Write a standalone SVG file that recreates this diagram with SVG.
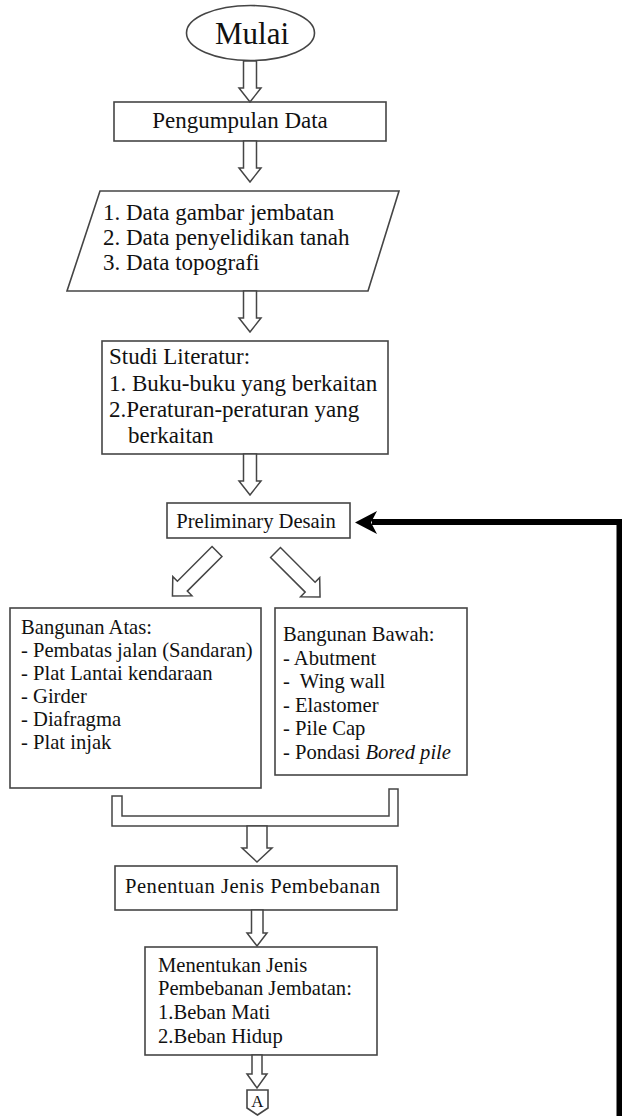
<svg xmlns="http://www.w3.org/2000/svg" width="622" height="1116" viewBox="0 0 622 1116">
<style>
.box{fill:#fff;stroke:#454545;stroke-width:1.6}
.arr{fill:#fff;stroke:#454545;stroke-width:1.5;stroke-linejoin:miter}
text{font-family:"Liberation Serif","Times New Roman",serif;fill:#111}
.t22{font-size:23px}
.t20{font-size:20.6px}
</style>
<rect width="622" height="1116" fill="#fff"/>
<g id="mulai">
<ellipse class="box" cx="250.5" cy="33" rx="64" ry="27.5"/>
<text x="252" y="44" font-size="31" text-anchor="middle">Mulai</text>
</g>
<g id="pengumpulan">
<rect class="box" x="114" y="102" width="272" height="39"/>
<text class="t22" x="240" y="128" text-anchor="middle">Pengumpulan Data</text>
</g>
<g id="data">
<polygon class="box" points="100,191 399,191 368,291 67,291"/>
<text class="t22" x="103" y="220">1. Data gambar jembatan</text>
<text class="t22" x="103" y="245">2. Data penyelidikan tanah</text>
<text class="t22" x="103" y="270">3. Data topografi</text>
</g>
<g id="studi">
<rect class="box" x="102" y="341" width="286" height="113"/>
<text class="t22" x="109" y="364">Studi Literatur:</text>
<text class="t22" x="109" y="391">1. Buku-buku yang berkaitan</text>
<text class="t22" x="109" y="417">2.Peraturan-peraturan yang</text>
<text class="t22" x="128" y="443">berkaitan</text>
</g>
<g id="preliminary">
<rect class="box" x="167" y="503" width="183" height="35"/>
<text class="t20" x="256" y="528" text-anchor="middle">Preliminary Desain</text>
</g>
<g id="atas">
<rect class="box" x="10" y="608" width="251" height="180"/>
<text class="t20" x="21" y="634">Bangunan Atas:</text>
<text class="t20" x="21" y="657">- Pembatas jalan (Sandaran)</text>
<text class="t20" x="21" y="680">- Plat Lantai kendaraan</text>
<text class="t20" x="21" y="703">- Girder</text>
<text class="t20" x="21" y="726">- Diafragma</text>
<text class="t20" x="21" y="749">- Plat injak</text>
</g>
<g id="bawah">
<rect class="box" x="275" y="608" width="192" height="167"/>
<text class="t20" x="283" y="641">Bangunan Bawah:</text>
<text class="t20" x="283" y="665">- Abutment</text>
<text class="t20" x="283" y="688" xml:space="preserve">-  Wing wall</text>
<text class="t20" x="283" y="712">- Elastomer</text>
<text class="t20" x="283" y="735">- Pile Cap</text>
<text class="t20" x="283" y="759">- Pondasi <tspan font-style="italic">Bored pile</tspan></text>
</g>
<g id="penentuan">
<rect class="box" x="115" y="866" width="282" height="44"/>
<text class="t20" x="125" y="893" letter-spacing="0.5">Penentuan Jenis Pembebanan</text>
</g>
<g id="menentukan">
<rect class="box" x="145" y="947" width="232" height="108"/>
<text class="t20" x="158" y="972">Menentukan Jenis</text>
<text class="t20" x="158" y="995">Pembebanan Jembatan:</text>
<text class="t20" x="158" y="1019">1.Beban Mati</text>
<text class="t20" x="158" y="1043">2.Beban Hidup</text>
</g>
<g id="connectorA">
<polygon class="box" points="247,1090 268,1090 268,1108 257.5,1115 247,1108"/>
<text x="257.5" y="1107" font-size="17" text-anchor="middle">A</text>
</g>
<g id="connectors">
<polygon class="arr" points="243.5,61 256.5,61 256.5,88 261,88 250,102 239,88 243.5,88"/>
<polygon class="arr" points="243.5,141 256.5,141 256.5,168 261,168 250,182 239,168 243.5,168"/>
<polygon class="arr" points="243.5,291 256.5,291 256.5,318 261,318 250,332 239,318 243.5,318"/>
<polygon class="arr" points="243.5,454 256.5,454 256.5,481 261,481 250,495 239,481 243.5,481"/>
<polygon class="arr" transform="translate(217,551.5) rotate(45)" points="-7,0 7,0 7,49 13.5,49 0,63 -13.5,49 -7,49"/>
<polygon class="arr" transform="translate(275.5,552.5) rotate(-45)" points="-7,0 7,0 7,49 13.5,49 0,63 -13.5,49 -7,49"/>
<polygon class="arr" points="112,796 122,796 122,816 389,816 389,789 398,789 398,826 112,826"/>
<polygon class="arr" points="247,826 267,826 267,848 272,848 257,862 242,848 247,848"/>
<polygon class="arr" points="251.5,910 263,910 263,933 267,933 257,946 247,933 251.5,933"/>
<polygon class="arr" points="252,1055 262,1055 262,1074 267,1074 257,1088 247,1074 252,1074"/>
<path d="M619.5,1116 V522 H372" fill="none" stroke="#000" stroke-width="6"/>
<polygon points="355,522.5 377,511 371,522.5 377,534" fill="#000"/>
</g>
</svg>
